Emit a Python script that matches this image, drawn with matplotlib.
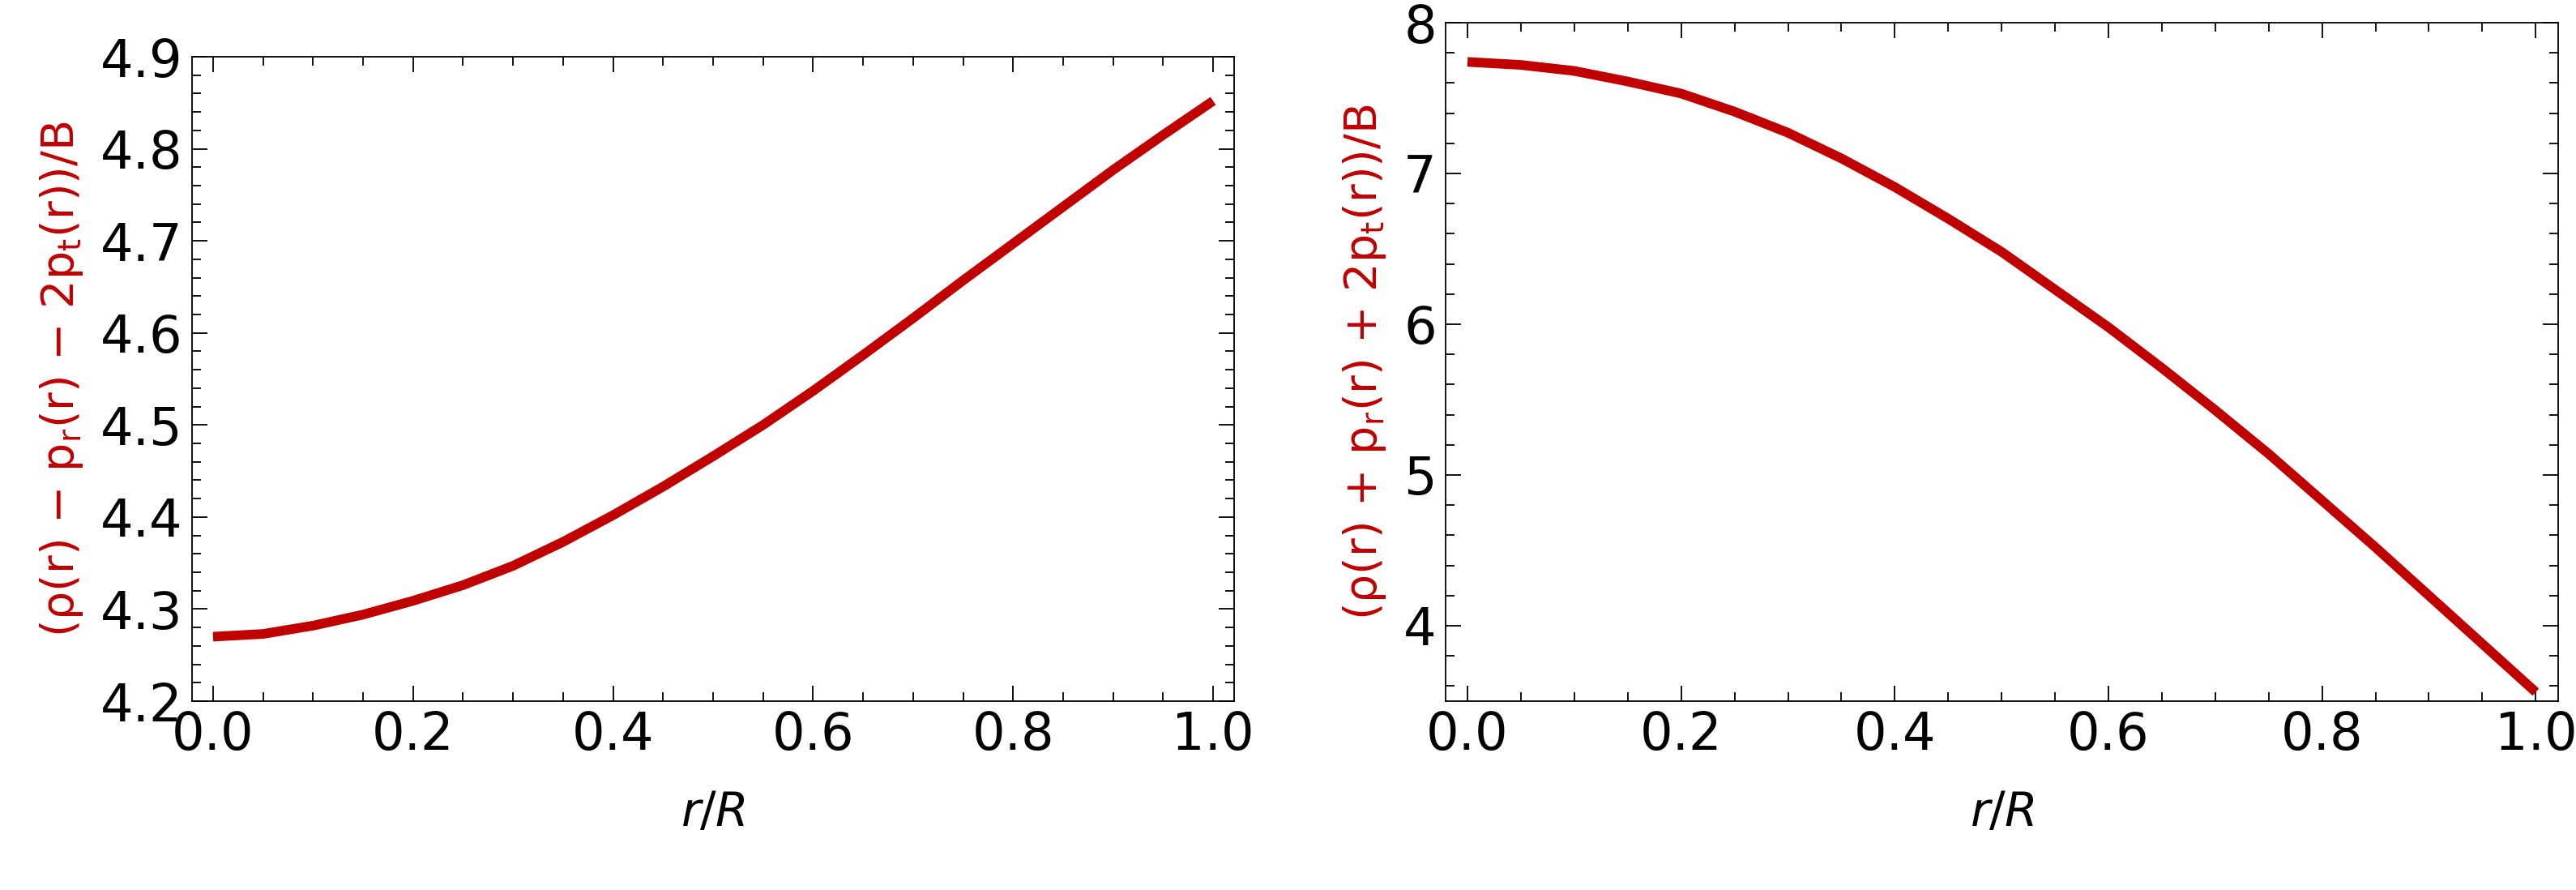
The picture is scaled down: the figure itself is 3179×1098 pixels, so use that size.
import matplotlib
matplotlib.use("Agg")

import matplotlib.pyplot as plt
from matplotlib.ticker import MultipleLocator, FormatStrFormatter

# values
r_vals = [0.0, 0.05, 0.1, 0.15, 0.2, 0.25, 0.3, 0.35, 0.4, 0.45, 0.5,
          0.55, 0.6, 0.65, 0.7, 0.75, 0.8, 0.85, 0.9, 0.95, 1.0]
minus_vals = [4.270, 4.273, 4.282, 4.294, 4.309, 4.326, 4.347, 4.373, 4.402, 4.433, 4.466,
              4.500, 4.537, 4.576, 4.616, 4.657, 4.697, 4.737, 4.777, 4.815, 4.852]
plus_vals = [7.74, 7.72, 7.68, 7.61, 7.53, 7.41, 7.27, 7.10, 6.91, 6.70, 6.48,
             6.23, 5.98, 5.71, 5.43, 5.14, 4.83, 4.52, 4.20, 3.88, 3.56]

RED = "#c00000"
W, H = 3179, 1098

plt.rcParams["mathtext.default"] = "regular"
fig = plt.figure(figsize=(W / 100, H / 100), dpi=100)


def style_axes(ax, ymajor, yminor):
    ax.xaxis.set_major_locator(MultipleLocator(0.2))
    ax.xaxis.set_minor_locator(MultipleLocator(0.05))
    ax.yaxis.set_major_locator(MultipleLocator(ymajor))
    ax.yaxis.set_minor_locator(MultipleLocator(yminor))
    ax.xaxis.set_major_formatter(FormatStrFormatter("%.1f"))
    ax.tick_params(which="both", direction="in", top=True, right=True, width=1.3)
    ax.tick_params(which="major", length=14, labelsize=46, pad=8)
    ax.tick_params(which="minor", length=8)
    for s in ax.spines.values():
        s.set_linewidth(1.3)
    ax.set_xlabel("$\\it{r/R}$", fontsize=42, labelpad=26)


ax1 = fig.add_axes([237 / W, (H - 865) / H, (1523 - 237) / W, (865 - 70) / H])
ax1.plot(r_vals, minus_vals, color=RED, linewidth=8.5, solid_capstyle="butt")
ax1.set_xlim(-0.021, 1.021)
ax1.set_ylim(4.2, 4.9)
style_axes(ax1, 0.1, 0.02)
ax1.yaxis.set_major_formatter(FormatStrFormatter("%.1f"))
ax1.set_ylabel(r"($\rho$(r) − p$_r$(r) − 2p$_t$(r))/B", color=RED, fontsize=40, labelpad=14)

ax2 = fig.add_axes([1784 / W, (H - 865) / H, (3157 - 1784) / W, (865 - 28) / H])
ax2.plot(r_vals, plus_vals, color=RED, linewidth=8.5, solid_capstyle="butt")
ax2.set_xlim(-0.0205, 1.021)
ax2.set_ylim(3.5, 8.0)
style_axes(ax2, 1, 0.2)
ax2.set_ylabel(r"($\rho$(r) + p$_r$(r) + 2p$_t$(r))/B", color=RED, fontsize=40, labelpad=14)

fig.savefig("out.png", dpi=100)
